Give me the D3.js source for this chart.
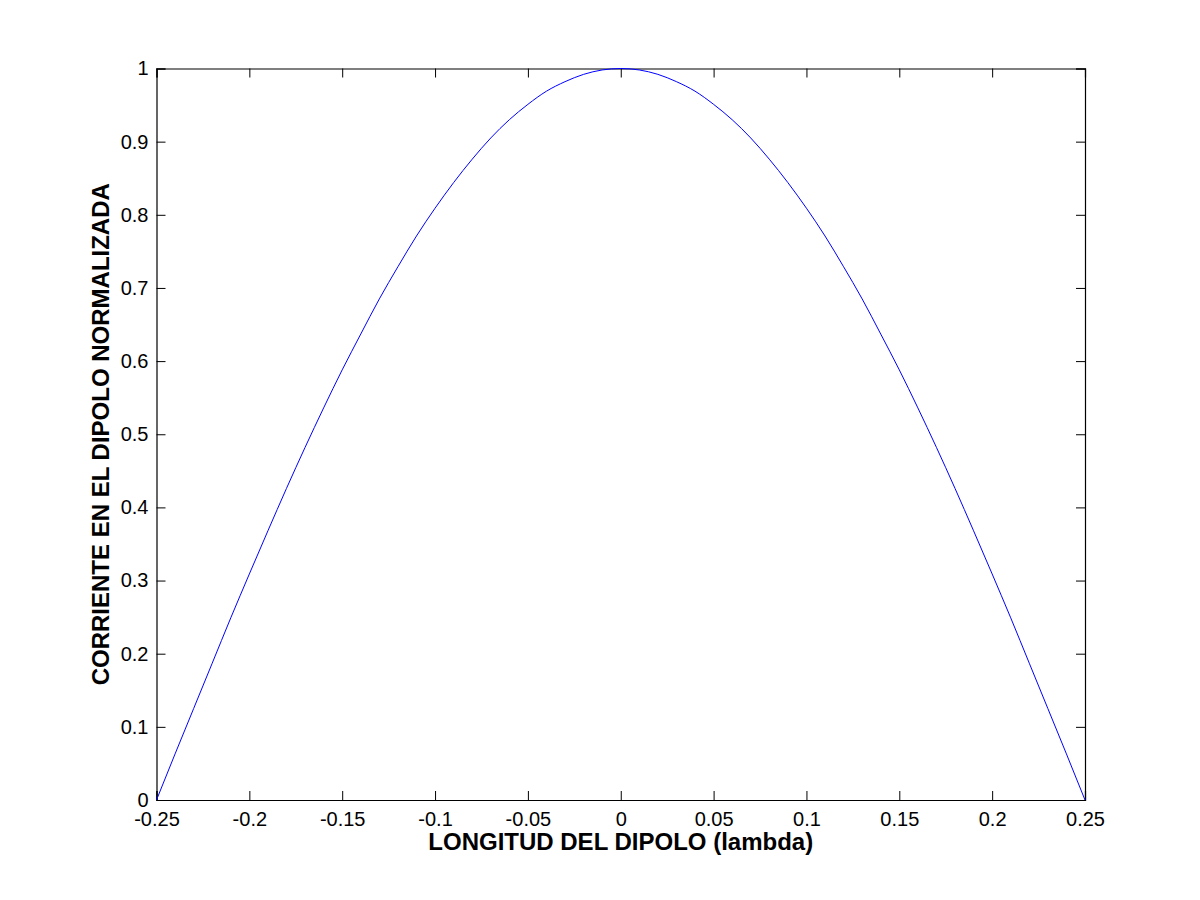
<!DOCTYPE html>
<html>
<head>
<meta charset="utf-8">
<script src="https://cdn.jsdelivr.net/npm/d3@7"></script>
<style>
  body { margin: 0; background: #fff; }
  text { font-family: "Liberation Sans", Arial, sans-serif; }
</style>
</head>
<body>
<svg id="vis"></svg>
<script>
// Datos
const longitud = [-0.25, -0.24, -0.23, -0.22, -0.21, -0.20, -0.19, -0.18, -0.17, -0.16,
    -0.15, -0.14, -0.13, -0.12, -0.11, -0.10, -0.09, -0.08, -0.07, -0.06,
    -0.05, -0.04, -0.03, -0.02, -0.01, 0,
    0.01, 0.02, 0.03, 0.04, 0.05, 0.06, 0.07, 0.08, 0.09, 0.10,
    0.11, 0.12, 0.13, 0.14, 0.15, 0.16, 0.17, 0.18, 0.19, 0.20,
    0.21, 0.22, 0.23, 0.24, 0.25];
const corriente = [0, 0.063, 0.125, 0.187, 0.249, 0.309, 0.368, 0.426, 0.482, 0.536,
    0.588, 0.637, 0.685, 0.729, 0.771, 0.809, 0.844, 0.876, 0.905, 0.930,
    0.951, 0.969, 0.982, 0.992, 0.998, 1,
    0.998, 0.992, 0.982, 0.969, 0.951, 0.930, 0.905, 0.876, 0.844, 0.809,
    0.771, 0.729, 0.685, 0.637, 0.588, 0.536, 0.482, 0.426, 0.368, 0.309,
    0.249, 0.187, 0.125, 0.063, 0];
const ticksX = [-0.25, -0.2, -0.15, -0.1, -0.05, 0, 0.05, 0.1, 0.15, 0.2, 0.25];
const ticksY = [0, 0.1, 0.2, 0.3, 0.4, 0.5, 0.6, 0.7, 0.8, 0.9, 1];

const WIDTH = 1200;
const HEIGHT = 900;
const MARGIN = { top: 68.5, bottom: 100, right: 115, left: 156.5 };
const HEIGHTVIS = HEIGHT - MARGIN.top - MARGIN.bottom;
const WIDTHVIS = WIDTH - MARGIN.right - MARGIN.left;

const svg = d3.select("#vis").attr("width", WIDTH).attr("height", HEIGHT);

const escalaX = d3.scaleLinear().domain([-0.25, 0.25]).range([0, WIDTHVIS]);
const escalaY = d3.scaleLinear().domain([0, 1]).range([HEIGHTVIS, 0]);

const g = svg.append("g").attr("transform", `translate(${MARGIN.left}, ${MARGIN.top})`);

// guion normal en vez del signo menos unicode
const fmt = d => String(+d.toFixed(2));

// Ejes con ticks hacia dentro (estilo MATLAB)
const ejeX = d3.axisBottom(escalaX).tickValues(ticksX).tickSize(-9).tickPadding(12).tickFormat(fmt);
const ejeY = d3.axisLeft(escalaY).tickValues(ticksY).tickSize(-9).tickPadding(8).tickFormat(fmt);
const ejeXtop = d3.axisTop(escalaX).tickValues(ticksX).tickSize(-9).tickFormat("");
const ejeYder = d3.axisRight(escalaY).tickValues(ticksY).tickSize(-9).tickFormat("");

g.append("g").attr("transform", `translate(0, ${HEIGHTVIS})`).call(ejeX);
g.append("g").call(ejeY);
g.append("g").call(ejeXtop);
g.append("g").attr("transform", `translate(${WIDTHVIS}, 0)`).call(ejeYder);

g.selectAll(".domain").attr("stroke", "#000").attr("stroke-width", 1.2);
g.selectAll(".tick line").attr("stroke", "#000");
g.selectAll(".tick text").attr("fill", "#000").style("font-size", "20px");

// Curva
const linea = d3.line()
    .x((d, i) => escalaX(longitud[i]))
    .y(d => escalaY(d))
    .curve(d3.curveMonotoneX);

g.append("path")
    .datum(corriente)
    .attr("fill", "none")
    .attr("stroke", "#0000ff")
    .attr("stroke-width", 1)
    .attr("d", linea);

// Nombres de ejes
svg.append("text")
    .attr("x", MARGIN.left + WIDTHVIS / 2)
    .attr("y", 850)
    .attr("text-anchor", "middle")
    .style("font-size", "24px")
    .style("font-weight", "bold")
    .text("LONGITUD DEL DIPOLO (lambda)");

svg.append("text")
    .attr("transform", `translate(109, ${MARGIN.top + HEIGHTVIS / 2}) rotate(-90)`)
    .attr("text-anchor", "middle")
    .style("font-size", "24px")
    .style("font-weight", "bold")
    .text("CORRIENTE EN EL DIPOLO NORMALIZADA");
</script>
</body>
</html>
